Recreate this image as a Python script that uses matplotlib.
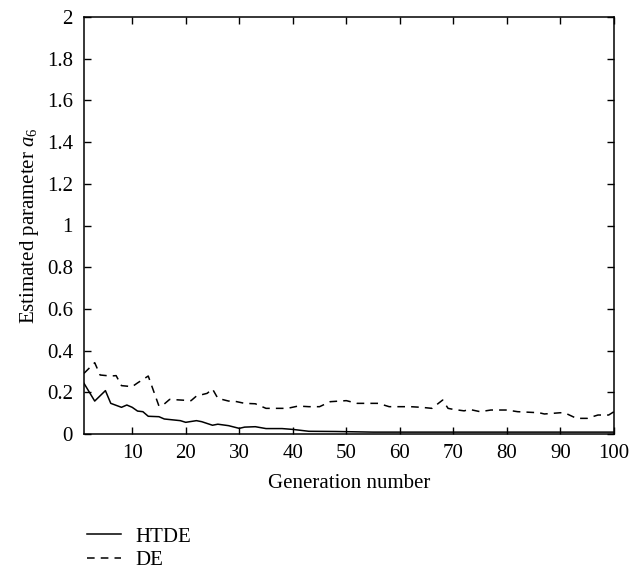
import numpy as np
import matplotlib
matplotlib.use('Agg')
import matplotlib.pyplot as plt

plt.rcParams['font.family'] = ['Liberation Serif', 'DejaVu Serif']
plt.rcParams['mathtext.fontset'] = 'custom'
plt.rcParams['mathtext.rm'] = 'Liberation Serif'
plt.rcParams['mathtext.it'] = 'Liberation Serif:italic'

# estimated a6 per generation (breakpoints of each curve)
htde_gen = [1, 3, 5, 6, 8, 9, 10, 11, 12, 13, 15, 16, 19, 20, 22, 23, 25, 26, 28,
			30, 31, 33, 35, 38, 40, 43, 48, 55, 70, 100]
htde_val = [0.243, 0.158, 0.208, 0.147, 0.128, 0.139, 0.128, 0.110, 0.107, 0.085,
			0.083, 0.072, 0.064, 0.056, 0.064, 0.059, 0.042, 0.047, 0.040,
			0.027, 0.033, 0.035, 0.026, 0.026, 0.022, 0.013, 0.012, 0.009, 0.009, 0.009]

de_gen = [1, 3, 4, 6, 7, 8, 10, 11, 13, 15, 16, 17, 19, 21, 22, 24, 25, 26, 28, 29,
		  31, 33, 35, 39, 41, 43, 45, 47, 50, 52, 54, 56, 58, 62, 64, 66, 68, 69,
		  70, 72, 73, 75, 77, 80, 82, 86, 87, 90, 91, 93, 95, 97, 99, 100]
de_val = [0.291, 0.342, 0.283, 0.278, 0.280, 0.232, 0.227, 0.245, 0.278, 0.134,
		  0.144, 0.166, 0.163, 0.160, 0.182, 0.195, 0.216, 0.171, 0.158, 0.158,
		  0.147, 0.145, 0.123, 0.123, 0.134, 0.131, 0.131, 0.155, 0.160, 0.147,
		  0.147, 0.147, 0.131, 0.131, 0.128, 0.123, 0.163, 0.123,
		  0.118, 0.111, 0.118, 0.107, 0.115, 0.115, 0.107, 0.102, 0.096, 0.102,
		  0.099, 0.075, 0.075, 0.091, 0.091, 0.107]

x_ticks = list(range(10, 101, 10))
y_ticks = [0, 0.2, 0.4, 0.6, 0.8, 1, 1.2, 1.4, 1.6, 1.8, 2]

fs = 15

fig = plt.figure(figsize=(6.31, 5.71), dpi=100)
ax = fig.add_axes([84/631, 1-434/571, (614-84)/631, (434-17)/571])

ax.plot(htde_gen, htde_val, color='black', lw=1.1, label='HTDE')
ax.plot(de_gen, de_val, color='black', lw=1.1, ls=(0, (5, 4)), label='DE')

ax.set_xlim(1, 100)
ax.set_ylim(0, 2)
ax.set_xticks(x_ticks)
ax.set_yticks(y_ticks)
ax.set_yticklabels(['{:g}'.format(v) for v in y_ticks])
ax.tick_params(direction='in', top=True, right=True, length=5, width=1,
			   labelsize=fs)
ax.tick_params(axis='x', pad=7)
ax.tick_params(axis='y', pad=8)
for s in ax.spines.values():
	s.set_linewidth(1.1)

ax.set_xlabel('Generation number', fontsize=fs, labelpad=8)
ax.set_ylabel('Estimated parameter $a_6$', fontsize=fs, labelpad=4)

fig.legend(loc='upper left', bbox_to_anchor=(87/631, 1-527/571), frameon=False,
		   fontsize=fs, handlelength=1.65, handletextpad=0.65, labelspacing=0.2,
		   borderpad=0, borderaxespad=0)

plt.savefig('out.png', dpi=100)
